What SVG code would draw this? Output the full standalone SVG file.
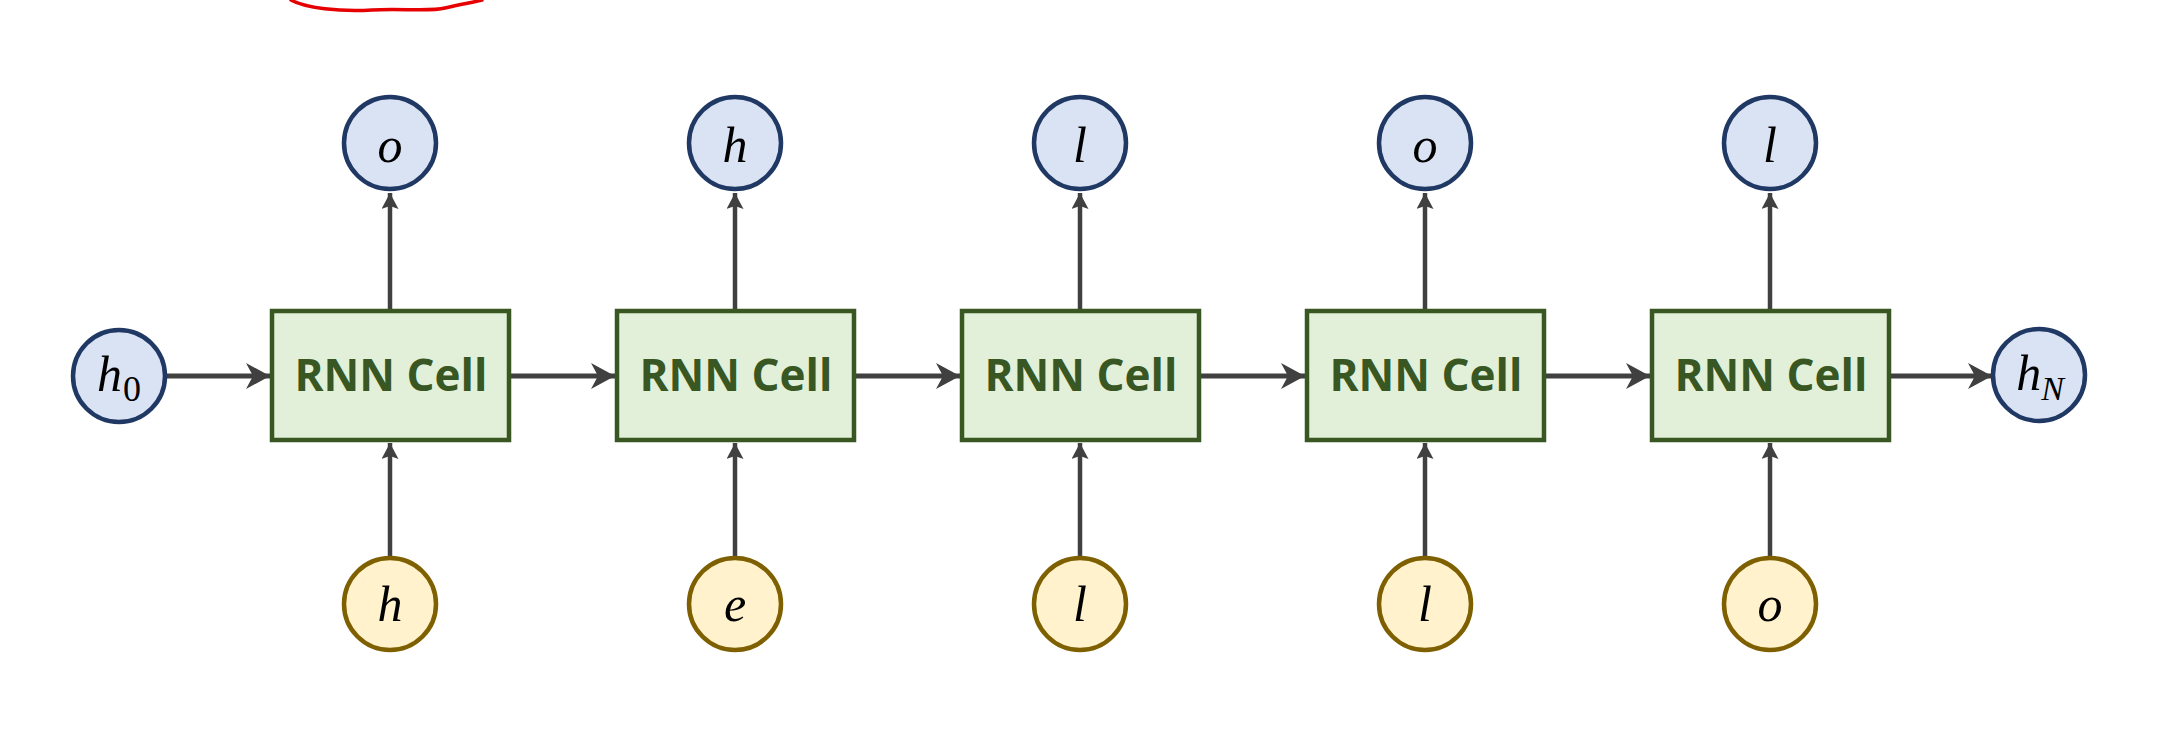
<svg xmlns="http://www.w3.org/2000/svg" width="2164" height="738" viewBox="0 0 2164 738">
<style>
.cell{fill:#e2f0d9;stroke:#385723;stroke-width:4.5}
.cellt{font-family:"Open Sans","Liberation Sans",sans-serif;font-weight:bold;font-size:44px;fill:#385723;text-anchor:middle}
.out{fill:#dae3f3;stroke:#203864;stroke-width:4.5}
.inp{fill:#fff2cc;stroke:#7f6000;stroke-width:4.5}
.var{font-family:"Liberation Serif","DejaVu Serif",serif;font-style:italic;font-size:50px;fill:#000;text-anchor:middle}
.sub{font-family:"Liberation Serif","DejaVu Serif",serif;font-style:normal;font-size:36px;fill:#000}
.h{stroke:#404040;stroke-width:5;fill:none}
.v{stroke:#404040;stroke-width:4.5;fill:none}
</style>
<defs>
<marker id="ah" markerUnits="userSpaceOnUse" markerWidth="26" markerHeight="28" refX="24" refY="13" orient="auto">
<path d="M0,0 L24,13 L0,26 L7,13 z" fill="#404040"/>
</marker>
<marker id="av" markerUnits="userSpaceOnUse" markerWidth="18" markerHeight="18" refX="16" refY="8.5" orient="auto">
<path d="M0,0 L16,8.5 L0,17 L3,8.5 z" fill="#404040"/>
</marker>
</defs>
<rect width="2164" height="738" fill="#ffffff"/>
<path d="M291,0 C305,8 340,12 372,10 C400,8 430,12 445,8 C462,4 475,2 482,0" fill="none" stroke="#e60000" stroke-width="3.5" stroke-linecap="round"/>
<g id="connectors">
<line class="h" x1="167" y1="376" x2="270" y2="376" marker-end="url(#ah)"/>
<line class="h" x1="511" y1="376" x2="615" y2="376" marker-end="url(#ah)"/>
<line class="h" x1="856" y1="376" x2="960" y2="376" marker-end="url(#ah)"/>
<line class="h" x1="1201" y1="376" x2="1305" y2="376" marker-end="url(#ah)"/>
<line class="h" x1="1546" y1="376" x2="1650" y2="376" marker-end="url(#ah)"/>
<line class="h" x1="1891" y1="376" x2="1992" y2="376" marker-end="url(#ah)"/>
<line class="v" x1="390" y1="309" x2="390" y2="193" marker-end="url(#av)"/>
<line class="v" x1="735" y1="309" x2="735" y2="193" marker-end="url(#av)"/>
<line class="v" x1="1080" y1="309" x2="1080" y2="193" marker-end="url(#av)"/>
<line class="v" x1="1425" y1="309" x2="1425" y2="193" marker-end="url(#av)"/>
<line class="v" x1="1770" y1="309" x2="1770" y2="193" marker-end="url(#av)"/>
<line class="v" x1="390" y1="557" x2="390" y2="443" marker-end="url(#av)"/>
<line class="v" x1="735" y1="557" x2="735" y2="443" marker-end="url(#av)"/>
<line class="v" x1="1080" y1="557" x2="1080" y2="443" marker-end="url(#av)"/>
<line class="v" x1="1425" y1="557" x2="1425" y2="443" marker-end="url(#av)"/>
<line class="v" x1="1770" y1="557" x2="1770" y2="443" marker-end="url(#av)"/>
</g>
<g id="h0"><circle class="out" cx="119" cy="376" r="46"/><text class="var" x="119" y="391">h<tspan class="sub" dx="1" dy="10">0</tspan></text></g>
<g id="hN"><circle class="out" cx="2039" cy="375" r="46"/><text class="var" x="2040" y="390">h<tspan dx="0" dy="10" style="font-size:34px">N</tspan></text></g>
<g id="cell1"><rect class="cell" x="272" y="311" width="237" height="129"/><text class="cellt" x="391" y="391">RNN Cell</text></g>
<g id="cell2"><rect class="cell" x="617" y="311" width="237" height="129"/><text class="cellt" x="736" y="391">RNN Cell</text></g>
<g id="cell3"><rect class="cell" x="962" y="311" width="237" height="129"/><text class="cellt" x="1081" y="391">RNN Cell</text></g>
<g id="cell4"><rect class="cell" x="1307" y="311" width="237" height="129"/><text class="cellt" x="1426" y="391">RNN Cell</text></g>
<g id="cell5"><rect class="cell" x="1652" y="311" width="237" height="129"/><text class="cellt" x="1771" y="391">RNN Cell</text></g>
<g id="out1"><circle class="out" cx="390" cy="143" r="46"/><text class="var" x="390" y="162">o</text></g>
<g id="out2"><circle class="out" cx="735" cy="143" r="46"/><text class="var" x="735" y="162">h</text></g>
<g id="out3"><circle class="out" cx="1080" cy="143" r="46"/><text class="var" x="1080" y="162">l</text></g>
<g id="out4"><circle class="out" cx="1425" cy="143" r="46"/><text class="var" x="1425" y="162">o</text></g>
<g id="out5"><circle class="out" cx="1770" cy="143" r="46"/><text class="var" x="1770" y="162">l</text></g>
<g id="in1"><circle class="inp" cx="390" cy="604" r="46"/><text class="var" x="390" y="621">h</text></g>
<g id="in2"><circle class="inp" cx="735" cy="604" r="46"/><text class="var" x="735" y="621">e</text></g>
<g id="in3"><circle class="inp" cx="1080" cy="604" r="46"/><text class="var" x="1080" y="621">l</text></g>
<g id="in4"><circle class="inp" cx="1425" cy="604" r="46"/><text class="var" x="1425" y="621">l</text></g>
<g id="in5"><circle class="inp" cx="1770" cy="604" r="46"/><text class="var" x="1770" y="621">o</text></g>
</svg>
